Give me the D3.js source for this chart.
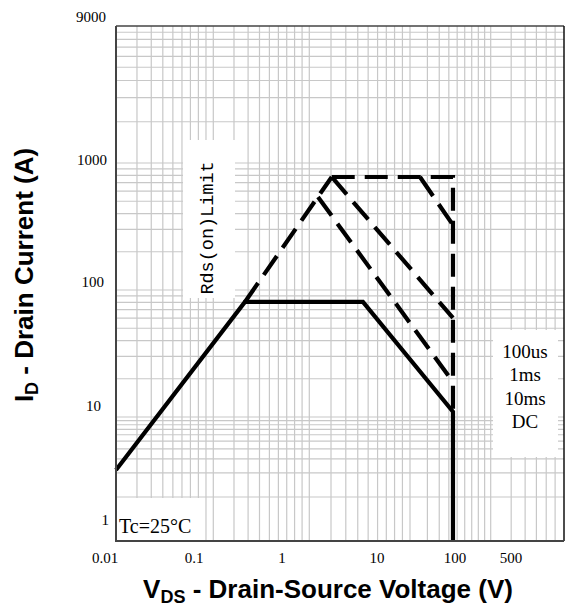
<!DOCTYPE html>
<html><head><meta charset="utf-8">
<script src="https://cdn.jsdelivr.net/npm/d3@7"></script>
<style>body{margin:0;background:#fff}</style>
</head><body>
<svg id="c" width="574" height="607"></svg>
<script>
// ---- data ----
const xTickValues = [0.01, 0.1, 1, 10, 100, 500];
const xTickLabels = ["0.01", "0.1", "1", "10", "100", "500"];
const yTickValues = [1, 10, 100, 1000, 9000];
const yTickLabels = ["1", "10", "100", "1000", "9000"];

// DC (solid) boundary
const dcV = [0.01, 0.274, 4.47, 44.7, 44.7];
const dcI = [2.18, 80.5, 80.5, 11, 0.28];
// Rds(on) limit extension (dashed)
const rdsV = [0.274, 2.04];
const rdsI = [80.5, 776];
// pulse current limit + Vds limit (dashed)
const topV = [2.04, 44.7, 44.7];
const topI = [776, 776, 11];
// 100us
const us100V = [14.9, 44.7];
const us100I = [776, 325];
// 1ms
const ms1V = [2.04, 44.7];
const ms1I = [776, 60.2];
// 10ms
const ms10V = [1.32, 44.7];
const ms10I = [540, 18.9];

const legendLines = ["100us", "1ms", "10ms", "DC"];

// ---- layout ----
const L = 116, R = 564, T = 26, B = 541;
const svg = d3.select("#c");

// hand-drawn semi-log grid: x decades are spaced as a blend of linear and log
const decadeStart = [116, 213.3, 309.3, 410, 490.7];
const decadeWidth = [97.3, 96, 100.7, 80.7, 95];
const blendW = 0.45;
const xGrid = [];
for (let e = -2; e <= 2; e++) for (let k = 1; k <= 9; k++) { const v = +(k * Math.pow(10, e)).toPrecision(3); if (v <= 700) xGrid.push(v); }
const xPos = v => { const e = Math.floor(Math.log10(v) + 1e-9); const k = v / Math.pow(10, e); const i = e + 2;
  return decadeStart[i] + decadeWidth[i] * (blendW * (k - 1) / 9 + (1 - blendW) * Math.log10(k)); };
const x = d3.scaleLog().domain(xGrid).range(xGrid.map(xPos));
const y = d3.scaleLog().domain([1, 10, 100, 1000, 10000]).range([497, 417, 290, 163, 26]);
const xLab = d3.scaleLog().domain(xTickValues).range([105, 194, 282, 377, 455, 511]);
const yLab = d3.scaleLog().domain(yTickValues).range([520, 406, 282, 160, 17]);

const yGrid = [];
for (let e = 0; e <= 3; e++) for (let k = 1; k <= 9; k++) { const v = k * Math.pow(10, e); if (y(v) <= B && y(v) > T + 1) yGrid.push(v); }

const grid = svg.append("g").attr("stroke", "#c8c8c8").attr("stroke-width", 1.2);
grid.selectAll(".gx").data(xGrid.filter(v => x(v) > L + 1 && x(v) < R - 1)).join("line")
  .attr("x1", d => x(d)).attr("x2", d => x(d)).attr("y1", T).attr("y2", B);
grid.selectAll(".gy").data(yGrid).join("line")
  .attr("y1", d => y(d)).attr("y2", d => y(d)).attr("x1", L).attr("x2", R);

// white label boxes
svg.append("rect").attr("x", 183).attr("y", 140).attr("width", 52).attr("height", 158).attr("fill", "#fff");
svg.append("rect").attr("x", 493).attr("y", 330).attr("width", 65).attr("height", 127).attr("fill", "#fff");
svg.append("rect").attr("x", 117).attr("y", 498).attr("width", 83).attr("height", 42).attr("fill", "#fff");

// curves
const line = d3.line().x(d => x(d[0])).y(d => y(d[1]));
const zip = (a, b) => a.map((v, i) => [v, b[i]]);
const dash = "23,10";
const cg = svg.append("g").attr("fill", "none").attr("stroke", "#000").attr("stroke-width", 4.2);
[[rdsV, rdsI], [topV, topI], [us100V, us100I], [ms1V, ms1I], [ms10V, ms10I]].forEach(([a, b]) => {
  cg.append("path").attr("d", line(zip(a, b))).attr("stroke-dasharray", dash);
});
cg.append("path").attr("d", line(zip(dcV, dcI))).attr("stroke-linejoin", "miter");

// frame
svg.append("line").attr("x1", L).attr("x2", R).attr("y1", T).attr("y2", T).attr("stroke", "#444").attr("stroke-width", 1.5);
svg.append("line").attr("x1", R).attr("x2", R).attr("y1", T).attr("y2", B).attr("stroke", "#111").attr("stroke-width", 1.5);
svg.append("line").attr("x1", L).attr("x2", L).attr("y1", T).attr("y2", B + 1).attr("stroke", "#444").attr("stroke-width", 2);
svg.append("line").attr("x1", L - 1).attr("x2", R).attr("y1", B).attr("y2", B).attr("stroke", "#444").attr("stroke-width", 2);

// tick labels
const serif = "'Liberation Serif','DejaVu Serif',serif";
svg.append("g").selectAll("text").data(xTickValues).join("text")
  .attr("x", d => xLab(d)).attr("y", 563).attr("text-anchor", "middle")
  .attr("font-family", serif).attr("font-size", 15).attr("fill", "#000")
  .text((d, i) => xTickLabels[i]);
svg.append("g").selectAll("text").data(yTickValues).join("text")
  .attr("x", (d, i) => [109, 101, 104, 107, 106][i]).attr("y", d => yLab(d) + 5).attr("text-anchor", "end")
  .attr("font-family", serif).attr("font-size", 15).attr("fill", "#000")
  .text((d, i) => yTickLabels[i]);

// annotations
svg.append("text").attr("transform", "translate(213,228) rotate(-90)").attr("text-anchor", "middle")
  .attr("font-family", "'Liberation Mono','DejaVu Sans Mono',monospace").attr("font-size", 18.5).text("Rds(on)Limit");
svg.append("g").selectAll("text").data(legendLines).join("text")
  .attr("x", 525).attr("y", (d, i) => 358 + i * 23.3).attr("text-anchor", "middle")
  .attr("font-family", serif).attr("font-size", 19).text(d => d);
svg.append("text").attr("x", 119).attr("y", 533).attr("font-family", serif).attr("font-size", 20).text("Tc=25°C");

// axis titles
const sans = "'Liberation Sans',Arial,sans-serif";
const xt = svg.append("text").attr("x", 328).attr("y", 598).attr("text-anchor", "middle")
  .attr("font-family", sans).attr("font-weight", "bold").attr("font-size", 26);
xt.append("tspan").text("V");
xt.append("tspan").attr("font-size", 18).attr("dy", 5).text("DS");
xt.append("tspan").attr("dy", -5).text(" - Drain-Source Voltage (V)");
const yt = svg.append("text").attr("transform", "translate(33,275) rotate(-90)").attr("text-anchor", "middle")
  .attr("font-family", sans).attr("font-weight", "bold").attr("font-size", 26);
yt.append("tspan").text("I");
yt.append("tspan").attr("font-size", 18).attr("dy", 5).text("D");
yt.append("tspan").attr("dy", -5).text(" - Drain Current (A)");
</script>
</body></html>
